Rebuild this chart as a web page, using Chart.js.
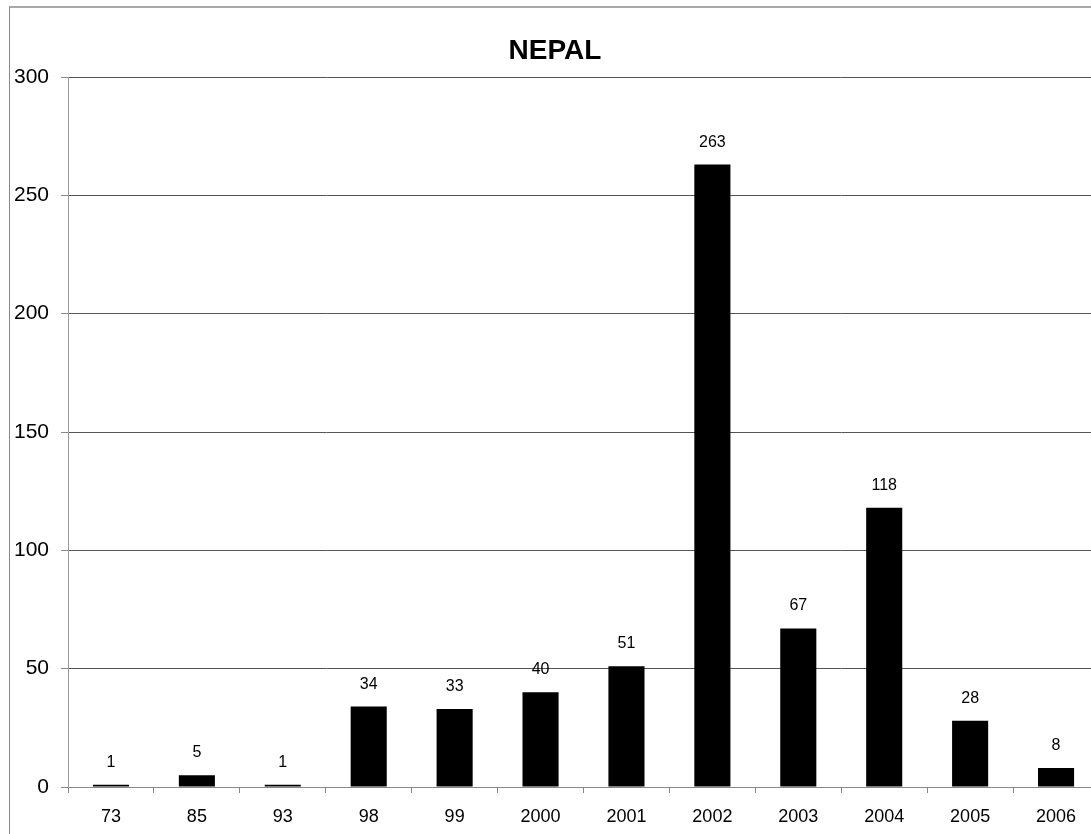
<!DOCTYPE html>
<html>
<head>
<meta charset="utf-8">
<title>NEPAL</title>
<script src="https://cdn.jsdelivr.net/npm/chart.js@4/dist/chart.umd.min.js"></script>
<style>
  html, body { margin: 0; padding: 0; background: #fff; overflow: hidden; width: 1091px; height: 834px; }
  #frame { position: absolute; left: 9px; top: 6px; width: 1200px; height: 900px;
           border-left: 1px solid #888; border-top: 2px solid #a8a8a8; }
  #c { position: absolute; left: 0; top: 0; }
</style>
</head>
<body>
<div id="frame"></div>
<canvas id="c" width="1110" height="834"></canvas>
<script>
const TITLE = 'NEPAL';
const YEARS = ['73', '85', '93', '98', '99', '2000', '2001', '2002', '2003', '2004', '2005', '2006'];
const COUNTS = [1, 5, 1, 34, 33, 40, 51, 263, 67, 118, 28, 8];
const Y_MIN = 0;
const Y_MAX = 300;
const Y_STEP = 50;

const FONT = 'Arial, "Liberation Sans", sans-serif';

// title drawn by hand so it can sit where the original chart frame centres it
const titleText = {
  id: 'titleText',
  afterDraw(chart) {
    const ctx = chart.ctx;
    ctx.save();
    ctx.font = 'bold 28px ' + FONT;
    ctx.fillStyle = '#000';
    ctx.textAlign = 'center';
    ctx.textBaseline = 'alphabetic';
    ctx.fillText(TITLE, 555, 59);
    ctx.restore();
  }
};

// labels sitting above each bar
const valueLabels = {
  id: 'valueLabels',
  afterDatasetsDraw(chart) {
    const ctx = chart.ctx;
    const meta = chart.getDatasetMeta(0);
    ctx.save();
    ctx.font = '16px ' + FONT;
    ctx.fillStyle = '#000';
    ctx.textAlign = 'center';
    ctx.textBaseline = 'alphabetic';
    meta.data.forEach((bar, i) => {
      ctx.fillText(String(COUNTS[i]), bar.x, bar.y - 18);
    });
    ctx.restore();
  }
};

const chart = new Chart(document.getElementById('c'), {
  type: 'bar',
  data: {
    labels: YEARS,
    datasets: [{
      data: COUNTS,
      backgroundColor: '#000',
      borderWidth: 0,
      barPercentage: 0.42,
      categoryPercentage: 1
    }]
  },
  options: {
    responsive: false,
    animation: false,
    devicePixelRatio: 1,
    layout: { padding: { left: 0, right: 11, top: 77, bottom: 0 } },
    plugins: {
      legend: { display: false },
      tooltip: { enabled: false },
      title: { display: false }
    },
    scales: {
      x: {
        afterFit(s) { s.height = 47; },
        grid: {
          display: true,
          drawOnChartArea: false,
          drawTicks: true,
          tickLength: 6,
          tickColor: '#888',
          offset: true
        },
        border: { display: true, color: '#888', width: 1 },
        ticks: {
          color: '#000',
          font: { family: FONT, size: 18 },
          padding: 13,
          maxRotation: 0,
          autoSkip: false
        }
      },
      y: {
        min: Y_MIN,
        max: Y_MAX,
        afterFit(s) { s.width = 68; },
        grid: {
          color: '#555',
          lineWidth: 1,
          drawTicks: true,
          tickLength: 7,
          tickColor: '#888'
        },
        border: { display: true, color: '#999', width: 1 },
        ticks: {
          stepSize: Y_STEP,
          color: '#000',
          font: { family: FONT, size: 21 },
          padding: 12
        }
      }
    }
  },
  plugins: [valueLabels, titleText]
});
</script>
</body>
</html>
